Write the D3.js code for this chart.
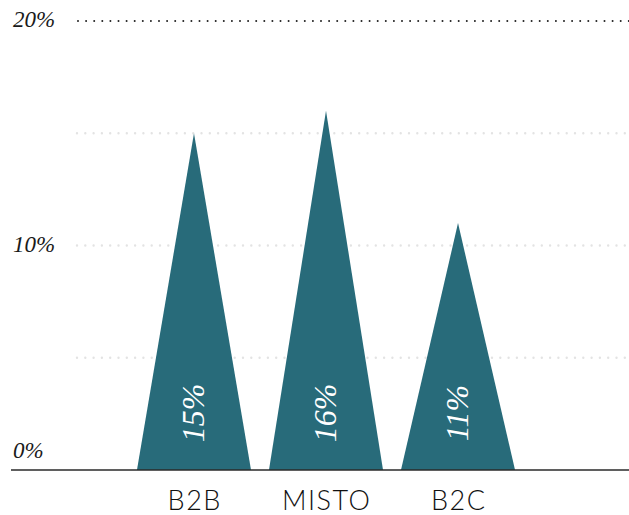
<!DOCTYPE html>
<html>
<head>
<meta charset="utf-8">
<script src="https://cdn.jsdelivr.net/npm/d3@7"></script>
<style>
  html, body { margin: 0; padding: 0; background: #fff; }
  svg { display: block; }
</style>
</head>
<body>
<svg id="chart" width="629" height="515"></svg>
<script>
// Share by channel (percent)
const categories = ["B2B", "MISTO", "B2C"];
const values = [15, 16, 11];
const valueLabels = ["15%", "16%", "11%"];
const yTicks = [0, 10, 20];
const yTickLabels = ["0%", "10%", "20%"];
const minorGrid = [5, 10, 15];

const W = 629, H = 515;
const svg = d3.select("#chart");

const y = d3.scaleLinear().domain([0, 20]).range([470, 21]);
const x = d3.scaleBand().domain(categories).range([119, 533])
  .paddingInner(0.136).paddingOuter(0.136);

const teal = "#286b7a";

// light dotted guides
svg.append("g").selectAll("line").data(minorGrid).join("line")
  .attr("x1", 77).attr("x2", W)
  .attr("y1", d => y(d)).attr("y2", d => y(d))
  .attr("stroke", "#e3e3e3").attr("stroke-width", 2.4)
  .attr("stroke-linecap", "round").attr("stroke-dasharray", "0 8.3");

// top dark dotted guide
svg.append("line")
  .attr("x1", 78).attr("x2", W)
  .attr("y1", y(20)).attr("y2", y(20))
  .attr("stroke", "#222").attr("stroke-width", 2)
  .attr("stroke-linecap", "round").attr("stroke-dasharray", "0 8.1");

// triangular peaks
svg.append("g").selectAll("path").data(categories).join("path")
  .attr("d", (c, i) => {
    const x0 = x(c), x1 = x0 + x.bandwidth(), xm = x0 + x.bandwidth() / 2;
    return `M${x0},${y(0)}L${xm},${y(values[i])}L${x1},${y(0)}Z`;
  })
  .attr("fill", teal);

// baseline
svg.append("line")
  .attr("x1", 11).attr("x2", W)
  .attr("y1", y(0)).attr("y2", y(0))
  .attr("stroke", "#2a2a2a").attr("stroke-width", 1.5);

// y tick labels
svg.append("g").selectAll("text").data(yTicks).join("text")
  .attr("x", 13)
  .attr("y", d => d === 0 ? 458 : y(d) + 6)
  .attr("font-family", "'Liberation Serif', 'DejaVu Serif', serif")
  .attr("font-style", "italic")
  .attr("font-size", 23)
  .attr("fill", "#1a1a1a")
  .text((d, i) => yTickLabels[i]);

// value labels inside peaks
svg.append("g").selectAll("text").data(categories).join("text")
  .attr("transform", c => `translate(${x(c) + x.bandwidth() / 2 + 10},${y(0) - 57}) rotate(-90)`)
  .attr("text-anchor", "middle")
  .attr("font-family", "'Liberation Serif', 'DejaVu Serif', serif")
  .attr("font-style", "italic")
  .attr("font-size", 32)
  .attr("fill", "#fff")
  .text((c, i) => valueLabels[i]);

// category labels
svg.append("g").selectAll("text").data(categories).join("text")
  .attr("x", c => x(c) + x.bandwidth() / 2 + 0.75)
  .attr("y", 510)
  .attr("text-anchor", "middle")
  .attr("font-family", "Lato, 'Open Sans', sans-serif")
  .attr("font-weight", 300)
  .attr("font-size", 27)
  .attr("letter-spacing", 1.5)
  .attr("fill", "#111")
  .text(c => c);
</script>
</body>
</html>
